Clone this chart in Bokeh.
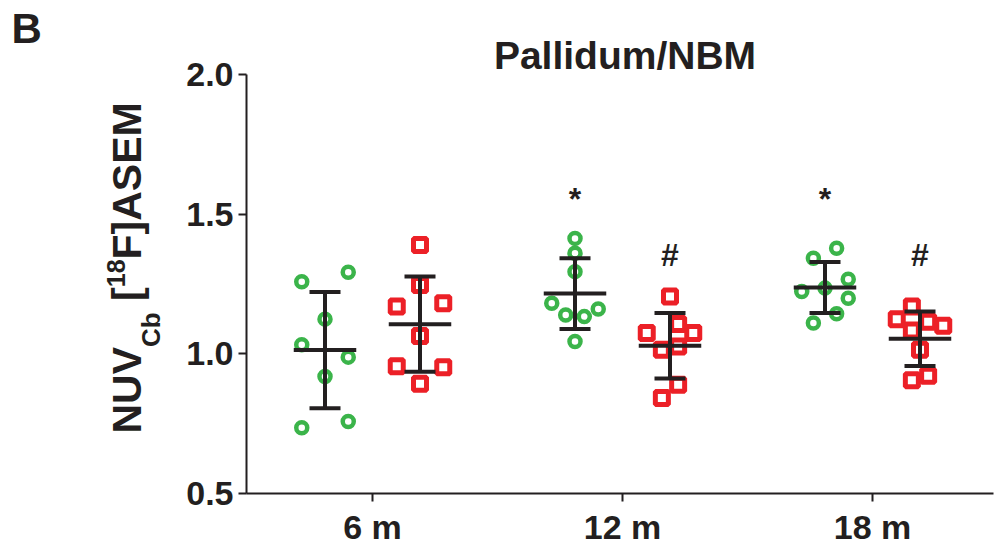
import numpy as np
from bokeh.plotting import figure
from bokeh.layouts import row
from bokeh.models import Range1d, FixedTicker, ColumnDataSource
from bokeh.core.properties import value
from bokeh.embed import file_html
from bokeh.resources import INLINE

# ---------------- data ----------------
categories = ["6 m", "12 m", "18 m"]
y_ticks = [0.5, 1.0, 1.5, 2.0]
y_tick_labels = ["0.5", "1.0", "1.5", "2.0"]

green_6m = [1.258, 1.292, 1.124, 1.032, 0.988, 0.919, 0.758, 0.735]
green_12m = [1.413, 1.360, 1.294, 1.181, 1.139, 1.133, 1.160, 1.044]
green_18m = [1.378, 1.342, 1.267, 1.235, 1.223, 1.199, 1.143, 1.110]

red_6m = [1.389, 1.246, 1.169, 1.181, 1.064, 0.955, 0.952, 0.893]
red_12m = [1.205, 1.107, 1.074, 1.074, 1.014, 1.026, 0.889, 0.842]
red_18m = [1.169, 1.124, 1.115, 1.100, 1.083, 1.014, 0.905, 0.921]

# scatter (beeswarm) spread of each point, in marker widths
green_6m_jit = [-1, 1, 0, -1, 1, 0, 1, -1]
green_12m_jit = [0, 0, 0, -1, -0.4, 0.4, 1, 0]
green_18m_jit = [0.5, -0.5, 1, 0, -1, 1, 0.5, -0.5]
red_6m_jit = [0, 0, -1, 1, 0, -1, 1, 0]
red_12m_jit = [0, 0.35, -1, 1, -0.35, 0.35, 0.35, -0.35]
red_18m_jit = [-0.35, -1, 0.35, 1, -0.35, 0, -0.35, 0.35]

# significance marks
annot_cat = [1, 1, 2, 2]
annot_group = ["green", "red", "green", "red"]
annot_text = ["*", "#", "*", "#"]
annot_y = [1.553, 1.355, 1.553, 1.355]

title_text = "Pallidum/NBM"
panel_letter = "B"
# y label: (text, kind) with kind main / sub / sup
ylabel_parts = [("NUV", "main"), ("Cb", "sub"), (" [", "main"), ("18", "sup"),
                ("F]ASEM", "main")]

# ---------------- style ----------------
GREEN = "#3BB44A"
RED = "#EC2027"
BLACK = "#231F20"
FONT = "Liberation Sans"
OFF = {"green": -0.19, "red": 0.19}
JIT = 0.093
BASE_SHIFT = 0.38  # em offset of rendered alphabetic baseline

W, H = 995, 548
LW = 180                       # width of the left label panel
BL, BR, BB = 66, 2, 54
PXU = 280.0                    # pixels per y unit
X0, X1 = -0.504, 2.484
Y0 = 0.5
Y1 = Y0 + (H - BB) / PXU       # frame reaches the top of the canvas
AX_TOP = 2.0

# ---------------- main plot ----------------
p = figure(width=W - LW, height=H, output_backend="svg", toolbar_location=None,
           title=None, x_range=Range1d(X0, X1), y_range=Range1d(Y0, Y1),
           min_border_left=BL, min_border_right=BR,
           min_border_top=0, min_border_bottom=BB, frame_align=False)
p.outline_line_color = None
p.grid.visible = False
p.background_fill_color = "white"
p.border_fill_color = "white"

for ax in (p.xaxis[0], p.yaxis[0]):
    ax.axis_line_width = 2
    ax.axis_line_color = BLACK
    ax.major_tick_line_width = 2
    ax.major_tick_line_color = BLACK
    ax.major_tick_out = 8
    ax.major_tick_in = 0
    ax.minor_tick_line_color = None
    ax.major_label_text_font = FONT
    ax.major_label_text_font_style = "bold"
    ax.major_label_text_font_size = "34px"
    ax.major_label_text_color = BLACK

p.xaxis.ticker = FixedTicker(ticks=list(range(len(categories))))
p.xaxis.major_label_overrides = {i: c for i, c in enumerate(categories)}
p.xaxis.major_label_standoff = 6
p.yaxis.ticker = FixedTicker(ticks=y_ticks)
p.yaxis.major_label_overrides = {t: l for t, l in zip(y_ticks, y_tick_labels)}
p.yaxis.major_label_standoff = 5
p.yaxis.bounds = (Y0, AX_TOP)

groups = [
    ("green", 0, green_6m, green_6m_jit), ("green", 1, green_12m, green_12m_jit),
    ("green", 2, green_18m, green_18m_jit),
    ("red", 0, red_6m, red_6m_jit), ("red", 1, red_12m, red_12m_jit),
    ("red", 2, red_18m, red_18m_jit),
]

for g, ci, vals, jit in groups:
    xc = ci + OFF[g]
    xs = [xc + j * JIT for j in jit]
    src = ColumnDataSource(dict(x=xs, y=vals))
    if g == "green":
        p.scatter("x", "y", source=src, marker="circle", size=11,
                  fill_color=None, line_color=GREEN, line_width=4.5)
    else:
        p.scatter("x", "y", source=src, marker="square", size=13,
                  fill_color=None, line_color=RED, line_width=5)

# mean +/- SD
for g, ci, vals, jit in groups:
    xc = ci + OFF[g]
    m = float(np.mean(vals))
    s = float(np.std(vals, ddof=1))
    p.segment(x0=[xc - 0.125, xc, xc - 0.062, xc - 0.062],
              x1=[xc + 0.125, xc, xc + 0.062, xc + 0.062],
              y0=[m, m - s, m - s, m + s], y1=[m, m + s, m - s, m + s],
              line_color=BLACK, line_width=4)

asrc = ColumnDataSource(dict(x=[c + OFF[g] for c, g in zip(annot_cat, annot_group)],
                             y=annot_y, t=annot_text))
p.text("x", "y", text="t", source=asrc, text_font=value(FONT),
       text_font_style="bold", text_font_size="32px", text_color=BLACK,
       text_align="center", text_baseline="alphabetic")

# title (baseline 4 px above the 2.0 tick)
t_fs = 39
p.text(x=[(X0 + X1) / 2 + 0.02], y=[AX_TOP + (4 + BASE_SHIFT * t_fs) / PXU],
       text=[title_text], text_font=value(FONT), text_font_style="bold",
       text_font_size=f"{t_fs}px", text_color=BLACK, text_align="center",
       text_baseline="alphabetic")

# ---------------- left panel: letter + rotated y label ----------------
q = figure(width=LW, height=H, output_backend="svg", toolbar_location=None,
           title=None, x_range=Range1d(0, LW), y_range=Range1d(H, 0),
           x_axis_location=None, y_axis_location=None,
           min_border_left=0, min_border_right=0,
           min_border_top=0, min_border_bottom=0, frame_align=False)
q.outline_line_color = None
q.grid.visible = False
q.background_fill_color = "white"
q.border_fill_color = "white"


def txt(fig, x, y, t, fs, angle=0.0, align="left"):
    fig.text(x=[x], y=[y], text=[t], angle=angle, text_font=value(FONT),
             text_font_style="bold", text_font_size=f"{fs}px", text_color=BLACK,
             text_align=align, text_baseline="alphabetic")


txt(q, 11, 44 - BASE_SHIFT * 42, panel_letter, 42)

adv = {"N": .722, "U": .722, "V": .667, "C": .722, "b": .611, " ": .278, "[": .333,
       "1": .556, "8": .556, "F": .611, "]": .333, "A": .722, "S": .667, "E": .667,
       "M": .833}
kind_style = {"main": (41, 142), "sub": (26, 160), "sup": (25, 125)}
ypos = 433.0
for t, kind in ylabel_parts:
    fs, base = kind_style[kind]
    lead = len(t) - len(t.lstrip(" "))
    ypos -= lead * adv[" "] * fs          # leading blanks are advanced, not drawn
    t = t.lstrip(" ")
    txt(q, base - BASE_SHIFT * fs, ypos, t, fs, angle=np.pi / 2)
    ypos -= sum(adv[ch] for ch in t) * fs

open("out.html", "w").write(file_html(row(q, p, spacing=0), INLINE))
